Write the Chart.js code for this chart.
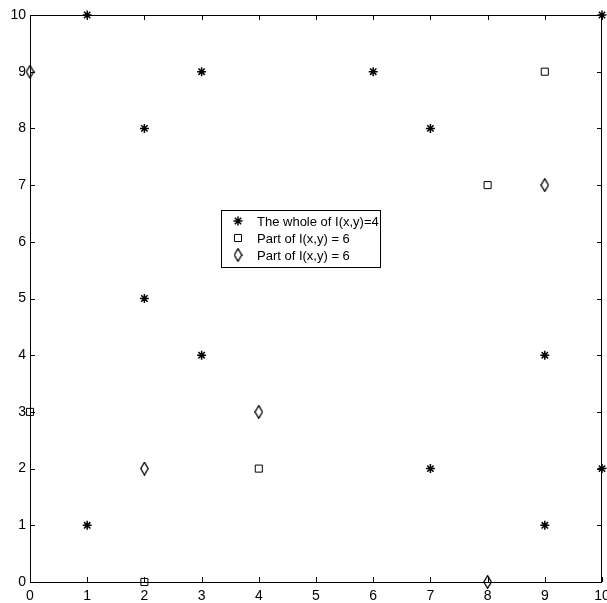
<!DOCTYPE html>
<html>
<head>
<meta charset="utf-8">
<script src="https://cdn.jsdelivr.net/npm/chart.js@4/dist/chart.umd.min.js"></script>
<style>
  body { margin: 0; background: #fff; }
  #wrap { width: 607px; height: 603px; }
</style>
</head>
<body>
<div id="wrap"><canvas id="plot" width="607" height="603"></canvas></div>
<script>
// data
const starX = [1, 10, 3, 6, 2, 7, 2, 3, 9, 7, 10, 1, 9];
const starY = [10, 10, 9, 9, 8, 8, 5, 4, 4, 2, 2, 1, 1];
const squareX = [9, 8, 0, 4, 2];
const squareY = [9, 7, 3, 2, 0];
const diamondX = [0, 9, 4, 2, 8];
const diamondY = [9, 7, 3, 2, 0];
const tickValues = [0, 1, 2, 3, 4, 5, 6, 7, 8, 9, 10];
const seriesNames = ['The whole of I(x,y)=4', 'Part of I(x,y) = 6', 'Part of I(x,y) = 6'];

const FONT = 'Liberation Sans, Arial, Helvetica, sans-serif';

function toPoints(xs, ys) {
    return xs.map((x, i) => ({ x: x, y: ys[i] }));
}

// tall thin diamond, like matlab's 'd' marker
function makeDiamond() {
    const c = document.createElement('canvas');
    c.width = 9; c.height = 14;
    const g = c.getContext('2d');
    g.strokeStyle = '#000';
    g.lineWidth = 1.3;
    g.beginPath();
    g.moveTo(4.5, 0.7);
    g.lineTo(8.2, 7);
    g.lineTo(4.5, 13.3);
    g.lineTo(0.8, 7);
    g.closePath();
    g.stroke();
    return c;
}
const diamond = makeDiamond();

const styles = [
    { pointStyle: 'star', radius: 4.5, borderWidth: 1.5 },
    { pointStyle: 'rect', radius: 5, borderWidth: 1 },
    { pointStyle: diamond, radius: 5, borderWidth: 1 }
];

// box, inward ticks and the legend
const matlabFrame = {
    id: 'matlabFrame',
    afterDatasetsDraw(chart) {
        const ctx = chart.ctx;
        const a = chart.chartArea;
        const xs = chart.scales.x, ys = chart.scales.y;
        ctx.save();
        ctx.strokeStyle = '#000';
        ctx.lineWidth = 1;
        ctx.beginPath();
        tickValues.forEach(v => {
            const px = Math.round(xs.getPixelForValue(v)) + 0.5;
            ctx.moveTo(px, a.bottom); ctx.lineTo(px, a.bottom - 5);
            ctx.moveTo(px, a.top); ctx.lineTo(px, a.top + 5);
            const py = Math.round(ys.getPixelForValue(v)) + 0.5;
            ctx.moveTo(a.left, py); ctx.lineTo(a.left + 5, py);
            ctx.moveTo(a.right, py); ctx.lineTo(a.right - 5, py);
        });
        ctx.stroke();
        ctx.strokeRect(a.left + 0.5, a.top + 0.5, a.right - a.left - 1, a.bottom - a.top);

        // legend
        const lx = 221, ly = 210, lw = 159, lh = 57;
        ctx.fillStyle = '#fff';
        ctx.fillRect(lx, ly, lw, lh);
        ctx.strokeRect(lx + 0.5, ly + 0.5, lw, lh);
        ctx.font = '13px ' + FONT;
        ctx.textBaseline = 'middle';
        ctx.textAlign = 'left';
        seriesNames.forEach((name, i) => {
            const y = ly + 11 + i * 17;
            const st = styles[i];
            ctx.strokeStyle = '#000';
            ctx.fillStyle = 'rgba(0,0,0,0)';
            ctx.lineWidth = st.borderWidth;
            Chart.helpers.drawPoint(ctx, { pointStyle: st.pointStyle, radius: st.radius, rotation: 0, borderWidth: st.borderWidth }, 238, y);
            ctx.fillStyle = '#000';
            ctx.fillText(name, 257, y + 1);
        });
        ctx.restore();
    }
};

const datasets = [
    { data: toPoints(starX, starY) },
    { data: toPoints(squareX, squareY) },
    { data: toPoints(diamondX, diamondY) }
].map((d, i) => Object.assign(d, {
    label: seriesNames[i],
    pointStyle: styles[i].pointStyle,
    pointRadius: styles[i].radius,
    pointBorderWidth: styles[i].borderWidth,
    pointBorderColor: '#000',
    pointBackgroundColor: 'rgba(0,0,0,0)',
    showLine: false,
    clip: false
}));

new Chart(document.getElementById('plot'), {
    type: 'scatter',
    data: { datasets: datasets },
    options: {
        responsive: false,
        animation: false,
        events: [],
        layout: { padding: { top: 15, right: 5, left: 0, bottom: 0 }, autoPadding: false },
        plugins: { legend: { display: false }, tooltip: { enabled: false } },
        scales: {
            x: {
                type: 'linear', min: 0, max: 10,
                afterFit: s => { s.height = 21; s.paddingLeft = 0; s.paddingRight = 0; },
                afterBuildTicks: s => { s.ticks = tickValues.map(v => ({ value: v })); },
                grid: { display: false, drawTicks: false },
                border: { display: false },
                ticks: { color: '#000', padding: 6, maxRotation: 0, autoSkip: false, font: { family: FONT, size: 14 } }
            },
            y: {
                type: 'linear', min: 0, max: 10,
                afterFit: s => { s.width = 30; s.paddingTop = 0; s.paddingBottom = 0; },
                afterBuildTicks: s => { s.ticks = tickValues.map(v => ({ value: v })); },
                grid: { display: false, drawTicks: false },
                border: { display: false },
                ticks: { color: '#000', padding: 4, autoSkip: false, font: { family: FONT, size: 14 } }
            }
        }
    },
    plugins: [matlabFrame]
});
</script>
</body>
</html>
